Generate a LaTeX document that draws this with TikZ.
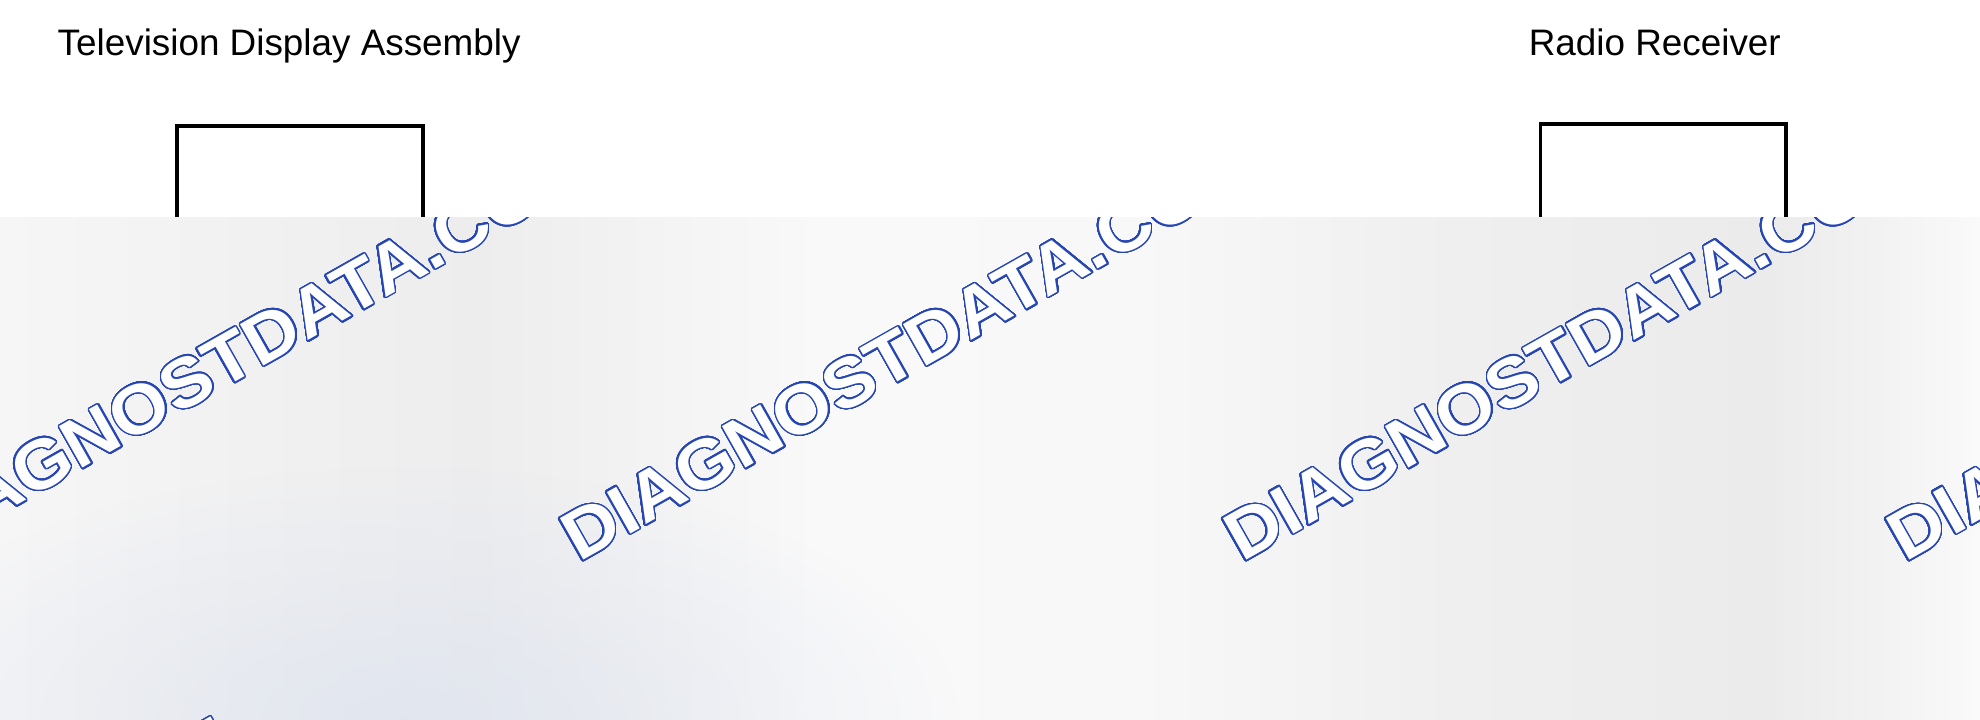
\documentclass[tikz,border=0pt]{standalone}
\usepackage{fontspec}
\setmainfont{Liberation Sans}
\newfontfamily\wmfont{Liberation Sans}[FakeStretch=1.08]
\usepackage{xcolor}
\usepackage{contour}
\usepackage{tikz}
\usetikzlibrary{positioning,fadings}

\definecolor{wmblue}{HTML}{2646B4}
\definecolor{bandblue}{HTML}{E0E5EF}
\definecolor{bandA}{HTML}{F6F6F7}
\definecolor{bandB}{HTML}{F1F1F2}
\definecolor{bandC}{HTML}{EDEDEE}
\definecolor{bandD}{HTML}{F9F9FA}
\definecolor{bandE}{HTML}{F8F8F9}
\definecolor{bandF}{HTML}{EFEFF0}
\definecolor{bandG}{HTML}{EBEBEC}
\definecolor{bandH}{HTML}{F3F3F4}
\definecolor{bandI}{HTML}{FAFAFA}

\pgfdeclarehorizontalshading{bandshade}{100bp}{
	color(0bp)=(bandA); color(25bp)=(bandA); color(31.4bp)=(bandB);
	color(37.1bp)=(bandC); color(45.7bp)=(bandD); color(53.7bp)=(bandE);
	color(61.7bp)=(bandF); color(69.6bp)=(bandG); color(72.8bp)=(bandH);
	color(75bp)=(bandI); color(100bp)=(bandI)}
\tikzfading[name=blobfade, inner color=transparent!10, outer color=transparent!100]

\contourlength{0.32pt}
\contournumber{48}

\begin{document}
\begin{tikzpicture}[
			x = 0.01cm, y = -0.01cm,
			title/.style = {inner sep = 0pt, font = \fontsize{8.3}{10}\selectfont},
			unitbox/.style = {draw, line width = 0.85pt, inner sep = 0pt, outer sep = 0pt,
				minimum height = 1.5cm, anchor = north west},
			wmark/.style = {rotate = 29.5, anchor = base west, inner sep = 0pt, text = white,
				font = \wmfont\fontsize{15.6}{18}\selectfont\bfseries}
			]

			\useasboundingbox (0,0) rectangle (1568,570);

			% titles and boxes
			\node[title, anchor = base west] (tvtitle) at (45,44) {Television Display Assembly};
			\node[title, anchor = base west] (radiotitle) at (1210,44) {Radio Receiver};

			\node[unitbox, minimum width = 1.95cm] (tvbox) at (140,100) {};
			\node[unitbox, minimum width = 1.94cm] (radiobox) at (1220,98) {};

			% lower band with watermark
			\shade[shading = bandshade] (0,172) rectangle (1568,570);
			\fill[bandblue, path fading = blobfade] (320,570) ellipse (440 and 200);

			\begin{scope}
				\clip (0,172) rectangle (1568,570);
				\foreach \wx/\wy [count=\i] in {-67/446,458/446,983/446,1508/446,-354/906}{
					\node[wmark] (wm\i) at (\wx,\wy) {\contour{wmblue}{DIAGNOSTDATA.COM}};
				}
			\end{scope}

		\end{tikzpicture}
\end{document}
